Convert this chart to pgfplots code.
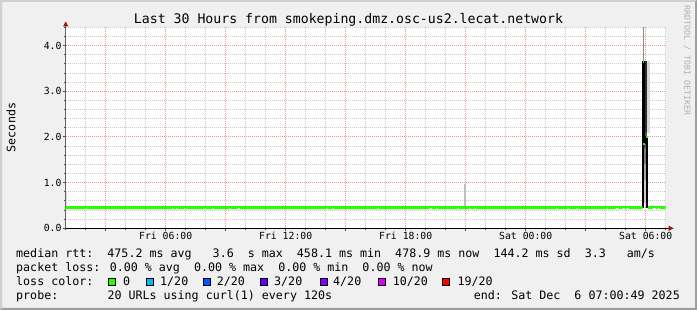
\documentclass[border=0pt]{standalone}
\usepackage{fontspec}
\setmainfont{DejaVu Sans Mono}
\usepackage{pgfplots}
\pgfplotsset{compat=1.18}
\usetikzlibrary{arrows.meta}
\definecolor{bgc}{HTML}{F0F0F0}
\definecolor{shadea}{HTML}{CFCFCF}
\definecolor{shadeb}{HTML}{9E9E9E}
\definecolor{mgrid}{HTML}{EBA0A0}
\definecolor{mingrid}{HTML}{CCCCCC}
\definecolor{arrowc}{HTML}{A01818}
\definecolor{loss0}{HTML}{26FF00}
\definecolor{loss1}{HTML}{00B8FF}
\definecolor{loss2}{HTML}{0059FF}
\definecolor{loss3}{HTML}{5E00FF}
\definecolor{loss4}{HTML}{7E00FF}
\definecolor{loss10}{HTML}{DD00FF}
\definecolor{loss19}{HTML}{FF0000}
\definecolor{wm}{HTML}{B0B0B0}
\newcommand\legfont{\fontsize{11.66}{13}\selectfont}
\begin{document}
\begin{tikzpicture}[x=1pt,y=1pt]
\fill[bgc] (0,0) rectangle (697,310);
\fill[shadea] (0,0) -- (0,310) -- (697,310) -- (695,308) -- (2,308) -- (2,2) -- cycle;
\fill[shadeb] (0,0) -- (697,0) -- (697,310) -- (695,308) -- (695,2) -- (2,2) -- cycle;

\begin{axis}[
  at={(65.7pt,81.7pt)}, anchor=south west,
  scale only axis, width=600pt, height=200.9pt,
  xmin=1, xmax=31, ymin=0, ymax=4.4,
  axis lines=left,
  x axis line style={black, line width=1pt, shorten >=-8pt, -{Triangle[length=5pt,width=5pt,color=arrowc]}},
  y axis line style={black!60, line width=1pt, shorten >=-6pt, -{Triangle[length=5pt,width=5pt,color=arrowc]}},
  axis background/.style={fill=white},
  xtick={3,6,...,30},
  xticklabels={,Fri 06:00,,Fri 12:00,,Fri 18:00,,Sat 00:00,,Sat 06:00},
  minor xtick={1,2,4,5,7,8,10,11,13,14,16,17,19,20,22,23,25,26,28,29,31},
  ytick={0,1,2,3,4},
  yticklabels={0.0,1.0,2.0,3.0,4.0},
  minor ytick={0.2,0.4,0.6,0.8,1.2,1.4,1.6,1.8,2.2,2.4,2.6,2.8,3.2,3.4,3.6,3.8,4.2,4.4},
  grid=both,
  major grid style={mgrid, line width=1pt, dash pattern=on 1pt off 1pt},
  minor grid style={mingrid, line width=1pt, dash pattern=on 1pt off 1pt},
  tick align=outside,
  major tick length=3pt, minor tick length=2pt,
  tick style={black!70, line width=1pt},
  tick label style={font=\fontsize{9.8}{10}\selectfont},
  yticklabel style={inner sep=1pt},
  xticklabel style={inner sep=1pt},
]
% smoke
\addplot[draw=none, fill=black!15, forget plot] coordinates {(1.0,0.49) (1.0,0.80) (1.04,0.80) (1.04,0.49)};
\addplot[draw=none, fill=black!25, forget plot] coordinates {(20.92,0.49) (20.92,0.97) (21.0,0.97) (21.0,0.49)};
\addplot[draw=none, fill=black!15, forget plot] coordinates {(30.065,2.08) (30.065,3.66) (30.2,3.66) (30.2,2.08)};
\addplot[draw=none, fill=black!45, forget plot] coordinates {(29.87,3.66) (29.87,4.4) (29.92,4.4) (29.92,3.66)};
\addplot[draw=none, fill=black!20, forget plot] coordinates {(29.865,0.55) (29.865,1.05) (30.065,1.05) (30.065,0.55)};
\addplot[draw=none, fill=black!35, forget plot] coordinates {(29.865,1.05) (29.865,1.4) (30.065,1.4) (30.065,1.05)};
\addplot[draw=none, fill=black!52, forget plot] coordinates {(29.865,1.4) (29.865,1.75) (30.065,1.75) (30.065,1.4)};
\addplot[draw=none, fill=black!68, forget plot] coordinates {(29.865,1.75) (29.865,2.1) (30.065,2.1) (30.065,1.75)};
\addplot[draw=none, fill=black!82, forget plot] coordinates {(29.865,2.1) (29.865,3.66) (30.065,3.66) (30.065,2.1)};
% median transitions
\addplot[black, line width=1.3pt, const plot, forget plot] coordinates {(29.83,0.455) (29.865,3.66) (29.95,1.85) (30.0,2.0) (30.065,0.455) (30.12,0.455)};
% median band (loss 0)
\addplot[draw=none, fill=loss0, forget plot] coordinates {
(1,0.488) (29.85,0.488) (29.85,0.422)
(29.15,0.422) (29.15,0.444) (29.05,0.444) (29.05,0.422)
(28.95,0.422) (28.95,0.444) (28.85,0.444) (28.85,0.422)
(28.65,0.422) (28.65,0.444) (28.5,0.444) (28.5,0.422)
(28.1,0.422) (28.1,0.444) (28.05,0.444) (28.05,0.422)
(26.6,0.422) (26.6,0.444) (26.55,0.444) (26.55,0.422)
(26.15,0.422) (26.15,0.444) (26.1,0.444) (26.1,0.422)
(25.6,0.422) (25.6,0.444) (25.55,0.444) (25.55,0.422)
(21.5,0.422) (21.5,0.444) (21.45,0.444) (21.45,0.422)
(21.25,0.422) (21.25,0.444) (21.2,0.444) (21.2,0.422)
(20.65,0.422) (20.65,0.444) (20.6,0.444) (20.6,0.422)
(19.6,0.422) (19.6,0.444) (19.55,0.444) (19.55,0.422)
(19.3,0.422) (19.3,0.444) (19.2,0.444) (19.2,0.422)
(16.65,0.422) (16.65,0.444) (16.6,0.444) (16.6,0.422)
(14.4,0.422) (14.4,0.444) (14.35,0.444) (14.35,0.422)
(14.08,0.422) (14.08,0.444) (14.03,0.444) (14.03,0.422)
(9.7,0.422) (9.7,0.444) (9.6,0.444) (9.6,0.422)
(9.25,0.422) (9.25,0.444) (9.2,0.444) (9.2,0.422)
(8.4,0.422) (8.4,0.444) (8.35,0.444) (8.35,0.422)
(8.0,0.422) (8.0,0.444) (7.95,0.444) (7.95,0.422)
(7.0,0.422) (7.0,0.444) (6.95,0.444) (6.95,0.422)
(6.58,0.422) (6.58,0.444) (6.53,0.444) (6.53,0.422)
(6.38,0.422) (6.38,0.444) (6.33,0.444) (6.33,0.422)
(2.05,0.422) (2.05,0.444) (2.0,0.444) (2.0,0.422)
(1,0.422)};
\addplot[draw=none, fill=loss0, forget plot] coordinates {
(30.115,0.488) (31,0.488) (31,0.422)
(30.7,0.422) (30.7,0.444) (30.6,0.444) (30.6,0.422)
(30.5,0.422) (30.5,0.444) (30.35,0.444) (30.35,0.422)
(30.115,0.422)};
% loss-coloured median points at the spike
\addplot[loss0, line width=2pt, forget plot] coordinates {(29.868,3.64) (29.93,3.64)};
\addplot[loss0, line width=2pt, forget plot] coordinates {(29.868,1.85) (29.95,1.85)};
\addplot[loss0, line width=2pt, forget plot] coordinates {(30.03,2.0) (30.13,2.0)};
\end{axis}

% title and labels
\node[anchor=base, font=\fontsize{13.2}{14}\selectfont, inner sep=0pt] at (348.5,286) {Last 30 Hours from smokeping.dmz.osc-us2.lecat.network};
\node[rotate=90, font=\legfont, inner sep=0pt] at (11,182.5) {Seconds};
\node[rotate=-90, anchor=west, font=\fontsize{8.3}{9}\selectfont, text=wm, inner sep=0pt] at (687,305) {RRDTOOL / TOBI OETIKER};

% legend
\begin{scope}[every node/.style={anchor=base west, font=\legfont, inner sep=0pt}]
\node at (16,52.5) {median rtt:~~475.2 ms avg~~~3.6~~s max~~458.1 ms min~~478.9 ms now~~144.2 ms sd~~3.3~~~am/s};
\node at (16,38.5) {packet loss: 0.00 \% avg~~0.00 \% max~~0.00 \% min~~0.00 \% now};
\node at (16,24.5) {loss color:};
\node at (16,10.5) {probe:};
\node at (107.3,10.5) {20 URLs using curl(1) every 120s};
\node[anchor=base east] at (680,10.5) {end: Sat Dec~~6 07:00:49 2025};
\foreach \c/\bx in {loss0/108, loss1/145.7, loss2/203, loss3/260, loss4/320, loss10/378.3, loss19/441.7}{
  \filldraw[fill=\c, draw=black, line width=1pt] (\bx+0.5,24.5) rectangle (\bx+7.5,31.5);
}
\node at (123,24.5) {0};
\node at (160,24.5) {1/20};
\node at (216.7,24.5) {2/20};
\node at (274,24.5) {3/20};
\node at (333,24.5) {4/20};
\node at (392.7,24.5) {10/20};
\node at (457.3,24.5) {19/20};
\end{scope}
\end{tikzpicture}
\end{document}
